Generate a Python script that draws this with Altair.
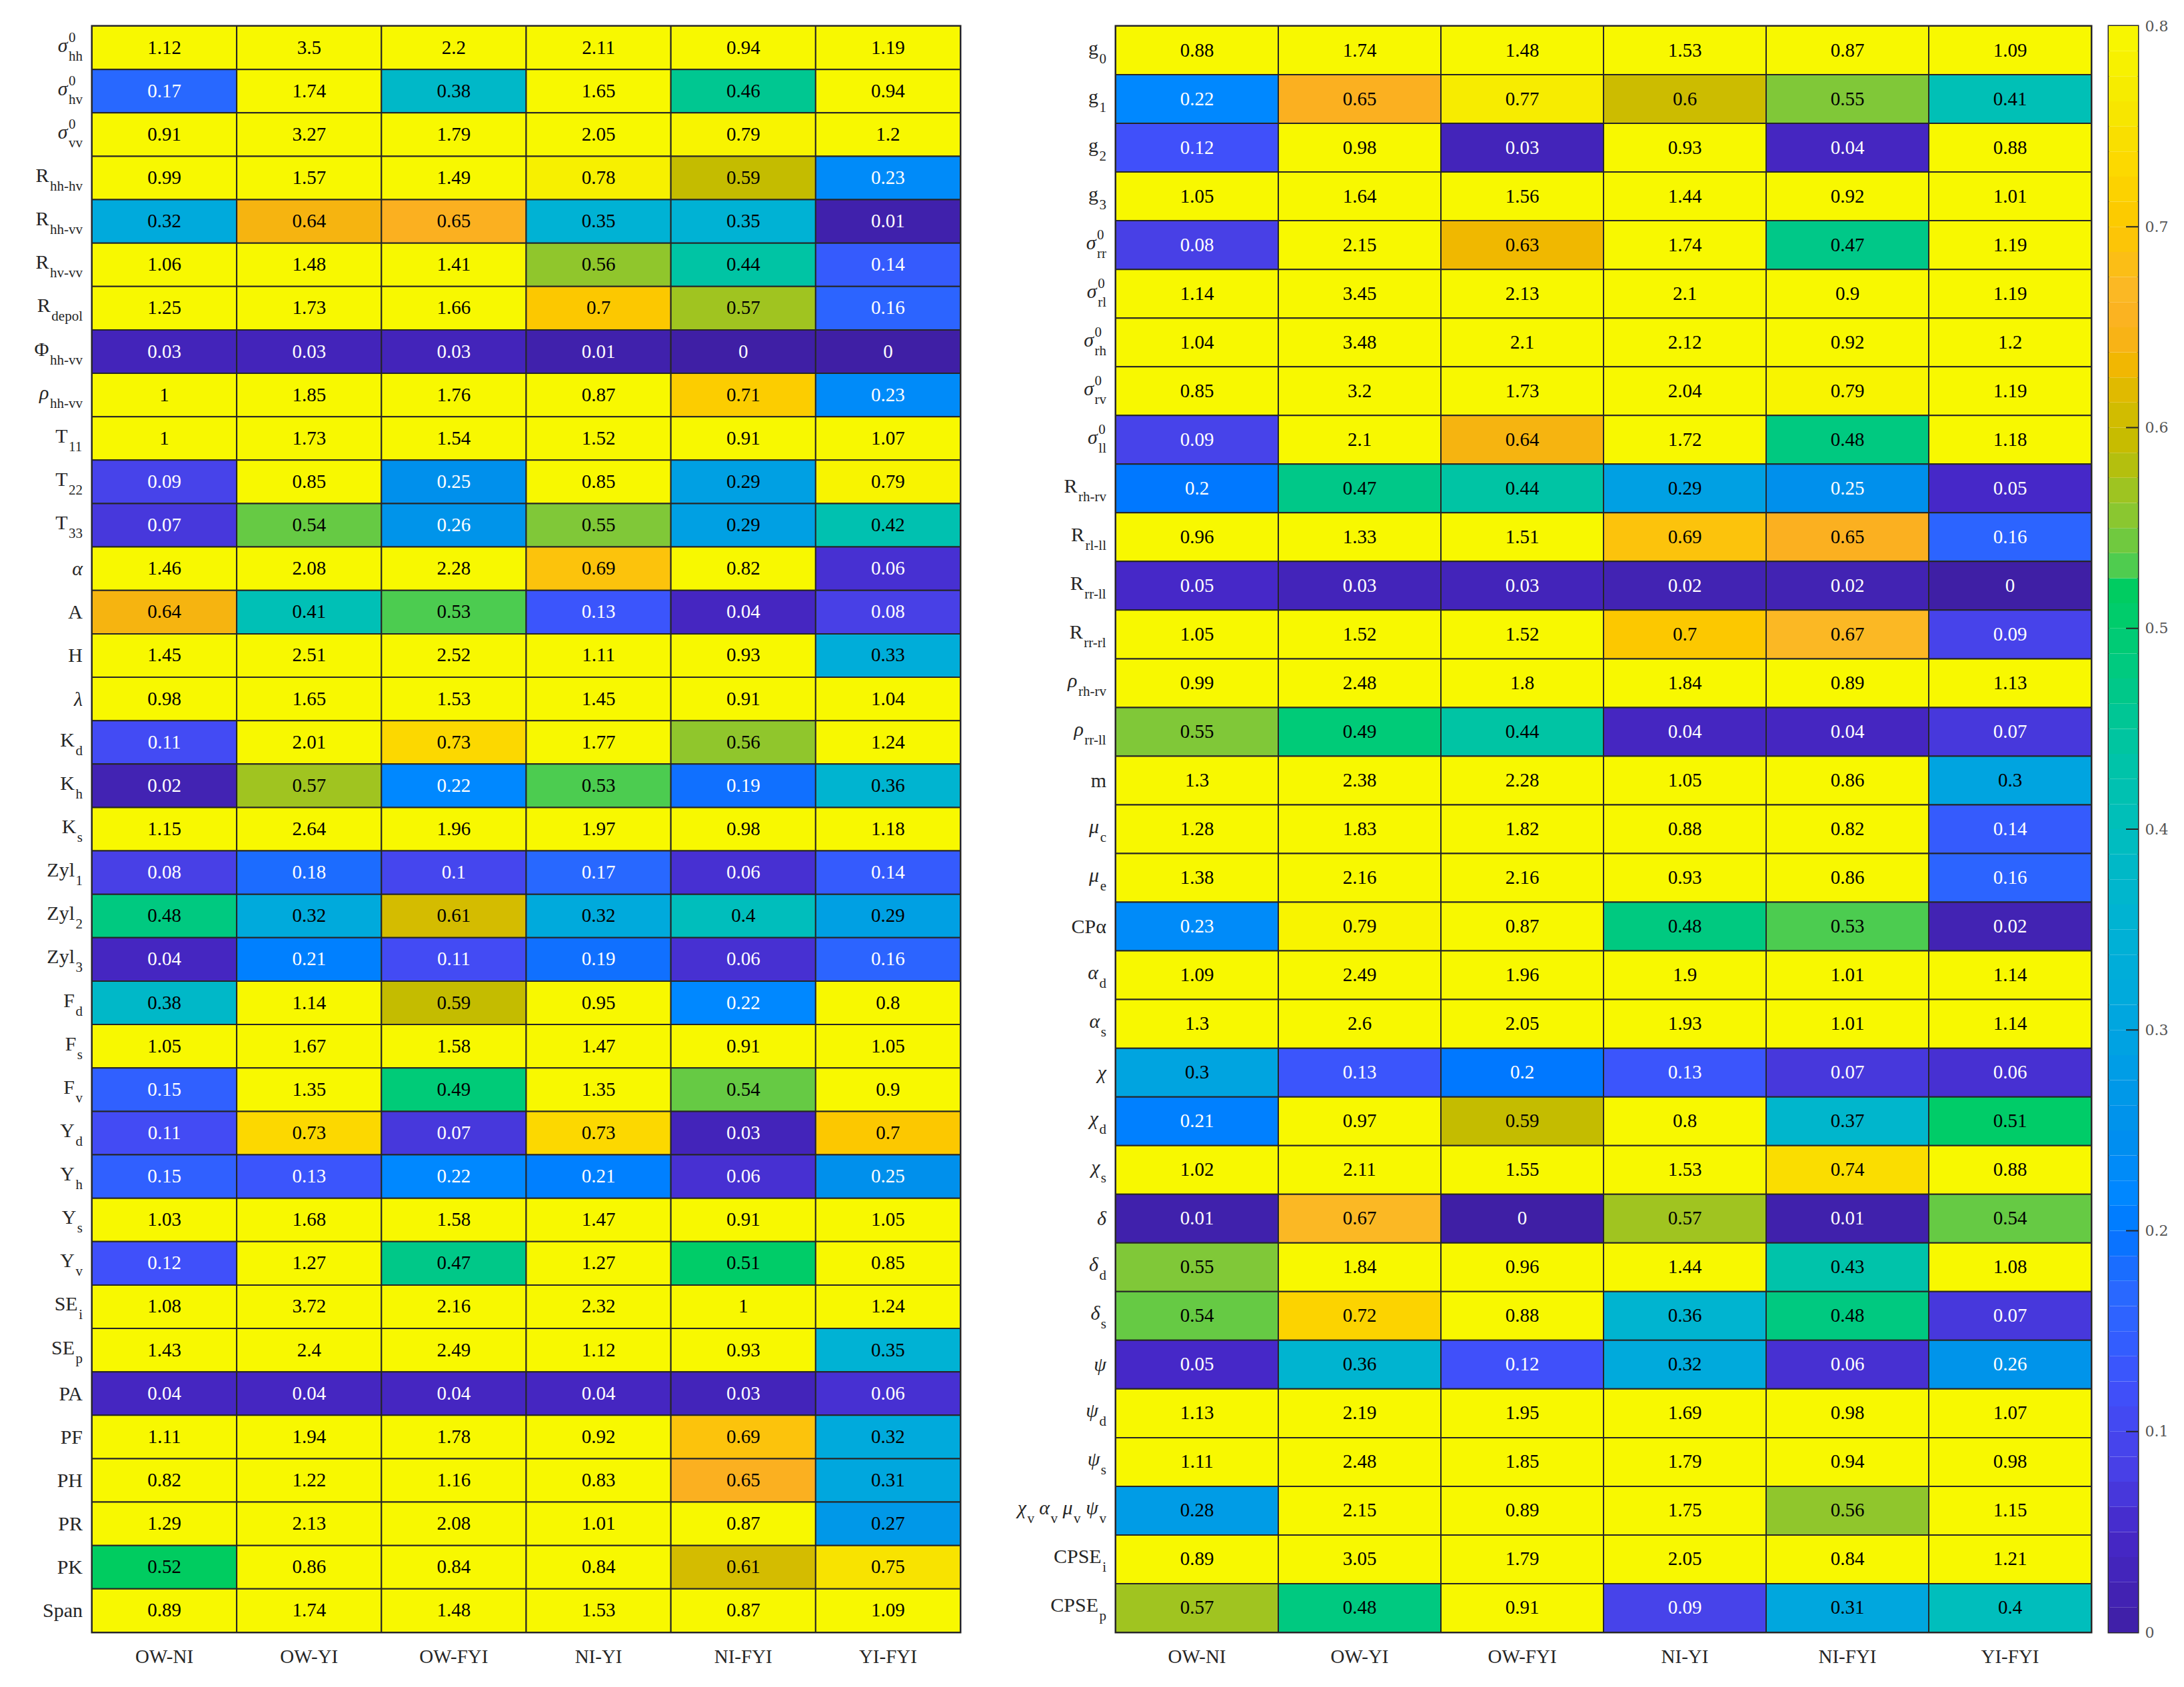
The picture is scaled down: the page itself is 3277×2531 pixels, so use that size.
import altair as alt
import pandas as pd

SERIF = "Liberation Serif"
INK = "#262626"

cols = ["OW-NI", "OW-YI", "OW-FYI", "NI-YI", "NI-FYI", "YI-FYI"]

left_labels = ["σ^0_hh", "σ^0_hv", "σ^0_vv", "R_hh-hv", "R_hh-vv", "R_hv-vv", "R_depol",
               "Φ_hh-vv", "ρ_hh-vv", "T_11", "T_22", "T_33", "α", "A", "H", "λ",
               "K_d", "K_h", "K_s", "Zyl_1", "Zyl_2", "Zyl_3", "F_d", "F_s", "F_v",
               "Y_d", "Y_h", "Y_s", "Y_v", "SE_i", "SE_p", "PA", "PF", "PH", "PR", "PK", "Span"]
left_values = [
    [1.12, 3.5, 2.2, 2.11, 0.94, 1.19],
    [0.17, 1.74, 0.38, 1.65, 0.46, 0.94],
    [0.91, 3.27, 1.79, 2.05, 0.79, 1.2],
    [0.99, 1.57, 1.49, 0.78, 0.59, 0.23],
    [0.32, 0.64, 0.65, 0.35, 0.35, 0.01],
    [1.06, 1.48, 1.41, 0.56, 0.44, 0.14],
    [1.25, 1.73, 1.66, 0.7, 0.57, 0.16],
    [0.03, 0.03, 0.03, 0.01, 0, 0],
    [1, 1.85, 1.76, 0.87, 0.71, 0.23],
    [1, 1.73, 1.54, 1.52, 0.91, 1.07],
    [0.09, 0.85, 0.25, 0.85, 0.29, 0.79],
    [0.07, 0.54, 0.26, 0.55, 0.29, 0.42],
    [1.46, 2.08, 2.28, 0.69, 0.82, 0.06],
    [0.64, 0.41, 0.53, 0.13, 0.04, 0.08],
    [1.45, 2.51, 2.52, 1.11, 0.93, 0.33],
    [0.98, 1.65, 1.53, 1.45, 0.91, 1.04],
    [0.11, 2.01, 0.73, 1.77, 0.56, 1.24],
    [0.02, 0.57, 0.22, 0.53, 0.19, 0.36],
    [1.15, 2.64, 1.96, 1.97, 0.98, 1.18],
    [0.08, 0.18, 0.1, 0.17, 0.06, 0.14],
    [0.48, 0.32, 0.61, 0.32, 0.4, 0.29],
    [0.04, 0.21, 0.11, 0.19, 0.06, 0.16],
    [0.38, 1.14, 0.59, 0.95, 0.22, 0.8],
    [1.05, 1.67, 1.58, 1.47, 0.91, 1.05],
    [0.15, 1.35, 0.49, 1.35, 0.54, 0.9],
    [0.11, 0.73, 0.07, 0.73, 0.03, 0.7],
    [0.15, 0.13, 0.22, 0.21, 0.06, 0.25],
    [1.03, 1.68, 1.58, 1.47, 0.91, 1.05],
    [0.12, 1.27, 0.47, 1.27, 0.51, 0.85],
    [1.08, 3.72, 2.16, 2.32, 1, 1.24],
    [1.43, 2.4, 2.49, 1.12, 0.93, 0.35],
    [0.04, 0.04, 0.04, 0.04, 0.03, 0.06],
    [1.11, 1.94, 1.78, 0.92, 0.69, 0.32],
    [0.82, 1.22, 1.16, 0.83, 0.65, 0.31],
    [1.29, 2.13, 2.08, 1.01, 0.87, 0.27],
    [0.52, 0.86, 0.84, 0.84, 0.61, 0.75],
    [0.89, 1.74, 1.48, 1.53, 0.87, 1.09],
]

right_labels = ["g_0", "g_1", "g_2", "g_3", "σ^0_rr", "σ^0_rl", "σ^0_rh", "σ^0_rv", "σ^0_ll",
                "R_rh-rv", "R_rl-ll", "R_rr-ll", "R_rr-rl", "ρ_rh-rv", "ρ_rr-ll", "m",
                "μ_c", "μ_e", "CPα", "α_d", "α_s", "χ", "χ_d", "χ_s", "δ", "δ_d", "δ_s",
                "ψ", "ψ_d", "ψ_s", "χ_v α_v μ_v ψ_v", "CPSE_i", "CPSE_p"]
right_values = [
    [0.88, 1.74, 1.48, 1.53, 0.87, 1.09],
    [0.22, 0.65, 0.77, 0.6, 0.55, 0.41],
    [0.12, 0.98, 0.03, 0.93, 0.04, 0.88],
    [1.05, 1.64, 1.56, 1.44, 0.92, 1.01],
    [0.08, 2.15, 0.63, 1.74, 0.47, 1.19],
    [1.14, 3.45, 2.13, 2.1, 0.9, 1.19],
    [1.04, 3.48, 2.1, 2.12, 0.92, 1.2],
    [0.85, 3.2, 1.73, 2.04, 0.79, 1.19],
    [0.09, 2.1, 0.64, 1.72, 0.48, 1.18],
    [0.2, 0.47, 0.44, 0.29, 0.25, 0.05],
    [0.96, 1.33, 1.51, 0.69, 0.65, 0.16],
    [0.05, 0.03, 0.03, 0.02, 0.02, 0],
    [1.05, 1.52, 1.52, 0.7, 0.67, 0.09],
    [0.99, 2.48, 1.8, 1.84, 0.89, 1.13],
    [0.55, 0.49, 0.44, 0.04, 0.04, 0.07],
    [1.3, 2.38, 2.28, 1.05, 0.86, 0.3],
    [1.28, 1.83, 1.82, 0.88, 0.82, 0.14],
    [1.38, 2.16, 2.16, 0.93, 0.86, 0.16],
    [0.23, 0.79, 0.87, 0.48, 0.53, 0.02],
    [1.09, 2.49, 1.96, 1.9, 1.01, 1.14],
    [1.3, 2.6, 2.05, 1.93, 1.01, 1.14],
    [0.3, 0.13, 0.2, 0.13, 0.07, 0.06],
    [0.21, 0.97, 0.59, 0.8, 0.37, 0.51],
    [1.02, 2.11, 1.55, 1.53, 0.74, 0.88],
    [0.01, 0.67, 0, 0.57, 0.01, 0.54],
    [0.55, 1.84, 0.96, 1.44, 0.43, 1.08],
    [0.54, 0.72, 0.88, 0.36, 0.48, 0.07],
    [0.05, 0.36, 0.12, 0.32, 0.06, 0.26],
    [1.13, 2.19, 1.95, 1.69, 0.98, 1.07],
    [1.11, 2.48, 1.85, 1.79, 0.94, 0.98],
    [0.28, 2.15, 0.89, 1.75, 0.56, 1.15],
    [0.89, 3.05, 1.79, 2.05, 0.84, 1.21],
    [0.57, 0.48, 0.91, 0.09, 0.31, 0.4],
]

# colormap (parula-like)
cmap_stops = [0.0, 0.05, 0.08, 0.10, 0.12, 0.15, 0.17, 0.19, 0.20, 0.22, 0.25, 0.28, 0.30,
              0.32, 0.35, 0.38, 0.40, 0.44, 0.47, 0.50, 0.52, 0.53, 0.55, 0.57, 0.59, 0.61,
              0.63, 0.65, 0.67, 0.70, 0.73, 0.76, 0.80]
cmap_colors = ["#3f1fa5", "#4628c8", "#4840e6", "#4546ee", "#4050fa", "#3060ff", "#2868ff",
               "#1070ff", "#0078ff", "#0088ff", "#0090ec", "#009ce6", "#00a4e0", "#00aadc",
               "#00b2d4", "#00b8c8", "#00bebc", "#00c4a4", "#00c888", "#00cc70", "#00cc60",
               "#4ccc50", "#80c838", "#a0c420", "#c4bc00", "#d4bc00", "#f0b800", "#fbb020",
               "#fbb824", "#fcc800", "#fcd800", "#f6e800", "#f8f800"]

cbar_labels = [0, 0.1, 0.2, 0.3, 0.4, 0.5, 0.6, 0.7, 0.8]
cbar_ticks = [0.1, 0.2, 0.3, 0.4, 0.5, 0.6, 0.7]

cscale = alt.Scale(type="linear", domain=cmap_stops, range=cmap_colors, clamp=True,
                   interpolate="rgb")

# --- label typesetting helpers (Times / Liberation Serif advance widths) ---
MAIN, SCRIPT = 30, 21
LABEL_PAD, GAP, GROUP_GAP = 14, 1.5, 7
W = {c: 500 for c in "0123456789"}
W.update({"-": 333, " ": 250, ".": 250})
W.update(dict(zip("abcdefghijklmnopqrstuvwxyz",
                  [444, 500, 444, 500, 444, 333, 500, 500, 278, 278, 500, 278, 778, 500, 500,
                   500, 500, 333, 389, 278, 500, 500, 722, 500, 500, 444])))
W.update(dict(zip("ABCDEFGHIJKLMNOPQRSTUVWXYZ",
                  [722, 667, 667, 722, 611, 556, 722, 722, 333, 389, 722, 611, 889, 722, 722,
                   556, 722, 667, 556, 611, 722, 722, 944, 722, 722, 611])))
W.update({"σ": 550, "ρ": 500, "α": 530, "μ": 520, "χ": 480, "δ": 470, "ψ": 650, "λ": 480,
          "Φ": 760})
GREEK_ITALIC = set("σραμχδψλ")


def tw(s, size):
    return sum(W.get(c, 520) for c in s) * size / 1000.0


def label_segments(label):
    parsed = []
    for g in label.split(" "):
        base, sup, sub = g, "", ""
        if "_" in base:
            base, sub = base.split("_", 1)
        if "^" in base:
            base, sup = base.split("^", 1)
        parsed.append((base, sup, sub))
    widths = []
    for base, sup, sub in parsed:
        w = tw(base, MAIN)
        if sup or sub:
            w += GAP + max(tw(sup, SCRIPT), tw(sub, SCRIPT))
        widths.append(w)
    x = -LABEL_PAD - sum(widths) - GROUP_GAP * (len(parsed) - 1)
    out = []
    for (base, sup, sub), w in zip(parsed, widths):
        mr = x + tw(base, MAIN)
        scripted = bool(sup or sub)
        italic = len(base) == 1 and base in GREEK_ITALIC
        out.append(dict(row=label, t=base, role="main", italic=italic, scripted=scripted, x=mr))
        if sup:
            out.append(dict(row=label, t=sup, role="sup", italic=False, scripted=True, x=mr + GAP))
        if sub:
            out.append(dict(row=label, t=sub, role="sub", italic=False, scripted=True, x=mr + GAP))
        x += w + GROUP_GAP
    return out


def panel(labels, values, width, height):
    df = pd.DataFrame([dict(row=r, col=c, v=values[i][j])
                       for i, r in enumerate(labels) for j, c in enumerate(cols)])
    seg = pd.DataFrame([s for r in labels for s in label_segments(r)])

    yenc = alt.Y("row:N", scale=alt.Scale(domain=labels, paddingInner=0, paddingOuter=0),
                 axis=None)
    xscale = alt.Scale(domain=cols, paddingInner=0, paddingOuter=0)
    xaxis = alt.Axis(title=None, labelAngle=0, ticks=False, domain=False, labelFont=SERIF,
                     labelFontSize=29, labelColor=INK, labelPadding=22, grid=False)

    rects = alt.Chart(df).mark_rect(stroke=INK, strokeWidth=2).encode(
        x=alt.X("col:N", scale=xscale, axis=xaxis),
        y=yenc,
        color=alt.Color("v:Q", scale=cscale, legend=None),
    )
    texts = alt.Chart(df).mark_text(font=SERIF, fontSize=29, baseline="middle").encode(
        x=alt.X("col:N", scale=xscale, axis=xaxis),
        y=yenc,
        text=alt.Text("v:Q", format="~g"),
        color=alt.condition("datum.v < 0.265", alt.value("white"), alt.value("black")),
    )
    grid = alt.layer(rects, texts)

    lab = alt.Chart(seg)

    def lay(flt, dy, size, italic, align):
        return lab.transform_filter(flt).mark_text(
            font=SERIF, fontSize=size, fontStyle="italic" if italic else "normal",
            align=align, baseline="alphabetic", dy=dy, color=INK,
        ).encode(x=alt.X("x:Q", scale=None, axis=None), y=yenc, text="t:N")

    layers = [
        lay("datum.role == 'main' && datum.scripted && !datum.italic", 6, MAIN, False, "right"),
        lay("datum.role == 'main' && datum.scripted && datum.italic", 6, MAIN, True, "right"),
        lay("datum.role == 'main' && !datum.scripted && !datum.italic", 10, MAIN, False, "right"),
        lay("datum.role == 'main' && !datum.scripted && datum.italic", 10, MAIN, True, "right"),
        lay("datum.role == 'sub'", 19, SCRIPT, False, "left"),
        lay("datum.role == 'sup'", -9, SCRIPT, False, "left"),
    ]
    return alt.layer(grid, *layers).resolve_scale(x="independent").properties(
        width=width, height=height)


left = panel(left_labels, left_values, 1303, 2410)
right = panel(right_labels, right_values, 1464, 2410)

# invisible spacer between the two heatmaps
spacer = alt.Chart(pd.DataFrame({"a": [0]})).mark_point(opacity=0).encode(
    x=alt.X("a:Q", axis=None), y=alt.Y("a:Q", axis=None)
).properties(width=181, height=2410, view=alt.ViewBackground(stroke="transparent"))

# colorbar
cb_y = alt.Scale(domain=[0, 0.8], nice=False, zero=False)
cb_axis = alt.Axis(orient="right", values=cbar_labels, format="~g", ticks=False,
                   domain=False, grid=False, labelPadding=10, labelFont="DejaVu Serif",
                   labelFontSize=22, labelColor="#555555", title=None)
bands = alt.Chart(alt.sequence(0, 64, as_="i")).transform_calculate(
    lo="datum.i * 0.0125", hi="(datum.i + 1) * 0.0125", mid="(datum.i + 0.5) * 0.0125"
).mark_rect().encode(
    y=alt.Y("lo:Q", scale=cb_y, axis=cb_axis),
    y2="hi:Q",
    x=alt.value(0),
    x2=alt.value(44),
    color=alt.Color("mid:Q", scale=cscale, legend=None),
)
ticks = alt.Chart(pd.DataFrame({"t": cbar_ticks})).mark_rule(color=INK, strokeWidth=2).encode(
    y=alt.Y("t:Q", scale=cb_y, axis=cb_axis),
    x=alt.value(26),
    x2=alt.value(44),
)
cbar = alt.layer(bands, ticks).properties(width=44, height=2410)

chart = alt.hconcat(
    left, spacer, right, cbar, spacing=26, bounds="flush",
).properties(
    padding={"left": 42, "top": 18, "right": 5, "bottom": 5},
).configure_view(stroke=INK, strokeWidth=3)

chart.save("out.html", embed_options={"renderer": "svg", "actions": False})
